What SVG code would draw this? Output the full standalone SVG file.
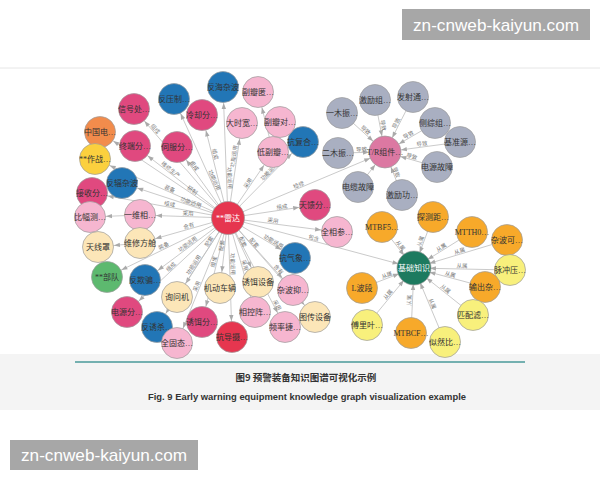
<svg xmlns="http://www.w3.org/2000/svg" width="600" height="480" viewBox="0 0 600 480">
<style>
.c{stroke:#9c9c9c;stroke-width:0.7}
.mg{fill:#e0497f}.lp{fill:#f6b6d0}.bl{fill:#2276b6}.or{fill:#f28c4c}.yl{fill:#fbd03e}
.tn{fill:#fce6b8}.gn{fill:#5db96f}.rd{fill:#e6364f}.gy{fill:#a9afc1}.tr{fill:#dc78a2}
.dg{fill:#1d7a5f}.og{fill:#f7a92a}.ly{fill:#f8f07c}
.t{font-family:"Liberation Serif","Noto Sans CJK SC",serif;font-size:8px;fill:#333;text-anchor:middle}
.w{fill:#fff}
.e{stroke:#bdbdbd;stroke-width:0.8;fill:none}
.el{font-family:"Noto Sans CJK SC",sans-serif;font-size:5.5px;fill:#777}
.wm{font-family:"Liberation Sans",sans-serif;font-size:17px;fill:#fff}
</style>
<defs>
<marker id="arr" markerUnits="userSpaceOnUse" markerWidth="30" markerHeight="10" refX="22" refY="0" orient="auto-start-reverse" overflow="visible">
<path d="M0,-2.2 L6,0 L0,2.2 z" fill="#aaa"/>
</marker>
</defs>
<rect width="600" height="480" fill="#fff"/>
<line x1="0" y1="68" x2="600" y2="68" stroke="#e6e6e6" stroke-width="1"/>
<rect x="0" y="354" width="600" height="56" fill="#f4f4f4"/>
<line x1="75" y1="362" x2="525" y2="362" stroke="#4a9a9a" stroke-width="1.5"/>

<g id="connectors">
<path id="e1" class="e" d="M174,99 L228,218" marker-start="url(#arr)"/>
<path id="e2" class="e" d="M134,109 L228,218" marker-start="url(#arr)"/>
<path id="e3" class="e" d="M100,132 L228,218" marker-start="url(#arr)"/>
<path id="e4" class="e" d="M135,146 L228,218" marker-start="url(#arr)"/>
<path id="e5" class="e" d="M177,147 L228,218" marker-start="url(#arr)"/>
<path id="e6" class="e" d="M95,159 L228,218" marker-start="url(#arr)"/>
<path id="e7" class="e" d="M122,183 L228,218" marker-start="url(#arr)"/>
<path id="e8" class="e" d="M92,193 L228,218" marker-start="url(#arr)"/>
<path id="e10" class="e" d="M140,215 L228,218" marker-start="url(#arr)"/>
<path id="e11" class="e" d="M140,243 L228,218" marker-start="url(#arr)"/>
<path id="e13" class="e" d="M107,277 L228,218" marker-start="url(#arr)"/>
<path id="e14" class="e" d="M145,280 L228,218" marker-start="url(#arr)"/>
<path id="e15" class="e" d="M177,297 L228,218" marker-start="url(#arr)"/>
<path id="e16" class="e" d="M127,312 L228,218" marker-start="url(#arr)"/>
<path id="e17" class="e" d="M157,327 L228,218" marker-start="url(#arr)"/>
<path id="e18" class="e" d="M177,343 L228,218" marker-start="url(#arr)"/>
<path id="e19" class="e" d="M202,322 L228,218" marker-start="url(#arr)"/>
<path id="e20" class="e" d="M220,288 L228,218" marker-start="url(#arr)"/>
<path id="e21" class="e" d="M228,218 L232,337" marker-end="url(#arr)"/>
<path id="e22" class="e" d="M228,218 L258,282" marker-end="url(#arr)"/>
<path id="e23" class="e" d="M228,218 L255,312" marker-end="url(#arr)"/>
<path id="e24" class="e" d="M228,218 L285,327" marker-end="url(#arr)"/>
<path id="e25" class="e" d="M228,218 L293,290" marker-end="url(#arr)"/>
<path id="e26" class="e" d="M228,218 L315,317" marker-end="url(#arr)"/>
<path id="e27" class="e" d="M228,218 L295,258" marker-end="url(#arr)"/>
<path id="e28" class="e" d="M228,218 L337,232" marker-end="url(#arr)"/>
<path id="e29" class="e" d="M228,218 L414,268" marker-end="url(#arr)"/>
<path id="e30" class="e" d="M228,218 L315,205" marker-end="url(#arr)"/>
<path id="e31" class="e" d="M228,218 L385,152" marker-end="url(#arr)"/>
<path id="e32" class="e" d="M228,218 L303,142" marker-end="url(#arr)"/>
<path id="e33" class="e" d="M228,218 L273,152" marker-end="url(#arr)"/>
<path id="e34" class="e" d="M228,218 L242,123" marker-end="url(#arr)"/>
<path id="e35" class="e" d="M202,115 L228,218" marker-start="url(#arr)"/>
<path id="e36" class="e" d="M223,87 L228,218" marker-start="url(#arr)"/>
<path id="e37" class="e" d="M90,217 L140,215" marker-start="url(#arr)"/>
<path id="e38" class="e" d="M98,247 L140,243" marker-start="url(#arr)"/>
<path id="e39" class="e" d="M258,92 L273,152" marker-start="url(#arr)"/>

<path id="t1" class="e" d="M342,113 L385,152" marker-end="url(#arr)"/>
<path id="t2" class="e" d="M338,153 L385,152" marker-end="url(#arr)"/>
<path id="t3" class="e" d="M375,100 L385,152" marker-end="url(#arr)"/>
<path id="t4" class="e" d="M385,152 L413,97" marker-start="url(#arr)"/>
<path id="t5" class="e" d="M385,152 L435,123" marker-start="url(#arr)"/>
<path id="t6" class="e" d="M385,152 L460,142" marker-start="url(#arr)"/>
<path id="t7" class="e" d="M385,152 L437,167" marker-start="url(#arr)"/>
<path id="t8" class="e" d="M358,187 L385,152" marker-end="url(#arr)"/>
<path id="t9" class="e" d="M385,152 L402,195" marker-start="url(#arr)"/>

<path id="b1" class="e" d="M414,268 L433,217" marker-start="url(#arr)"/>
<path id="b2" class="e" d="M382,227 L414,268" marker-end="url(#arr)"/>
<path id="b3" class="e" d="M414,268 L472,232" marker-start="url(#arr)"/>
<path id="b4" class="e" d="M414,268 L507,240" marker-start="url(#arr)"/>
<path id="b5" class="e" d="M414,268 L510,270" marker-start="url(#arr)"/>
<path id="b6" class="e" d="M414,268 L485,287" marker-start="url(#arr)"/>
<path id="b7" class="e" d="M362,288 L414,268" marker-end="url(#arr)"/>
<path id="b8" class="e" d="M414,268 L473,315" marker-start="url(#arr)"/>
<path id="b9" class="e" d="M367,325 L414,268" marker-end="url(#arr)"/>
<path id="b10" class="e" d="M411,333 L414,268" marker-end="url(#arr)"/>
<path id="b11" class="e" d="M414,268 L445,342" marker-start="url(#arr)"/>
</g>

<g id="edge-labels" class="el">
<text><textPath href="#e1" startOffset="90.7" text-anchor="middle"><tspan dy="-1.2">功能运用</tspan></textPath></text>
<text><textPath href="#e2" startOffset="28.9" text-anchor="middle"><tspan dy="-1.2">组成</tspan></textPath></text>
<text><textPath href="#e3" startOffset="109.2" text-anchor="middle"><tspan dy="-1.2">研制</tspan></textPath></text>
<text><textPath href="#e4" startOffset="42.6" text-anchor="middle"><tspan dy="-1.2">维修生产</tspan></textPath></text>
<text><textPath href="#e5" startOffset="25.4" text-anchor="middle"><tspan dy="-1.2">组成</tspan></textPath></text>
<text><textPath href="#e6" startOffset="80.5" text-anchor="middle"><tspan dy="-1.2">装备</tspan></textPath></text>
<text><textPath href="#e7" startOffset="71.6" text-anchor="middle"><tspan dy="-1.2">功能运用</tspan></textPath></text>
<text><textPath href="#e8" startOffset="78.3" text-anchor="middle"><tspan dy="-1.2">组成</tspan></textPath></text>
<text><textPath href="#e10" startOffset="48" text-anchor="middle"><tspan dy="-1.2">采用</tspan></textPath></text>
<text><textPath href="#e11" startOffset="51.5" text-anchor="middle"><tspan dy="-1.2">含有</tspan></textPath></text>
<text><textPath href="#e13" startOffset="64.6" text-anchor="middle"><tspan dy="-1.2">装备</tspan></textPath></text>
<text><textPath href="#e14" startOffset="55.6" text-anchor="middle"><tspan dy="-1.2">功能运用</tspan></textPath></text>
<text><textPath href="#e15" startOffset="64" text-anchor="middle"><tspan dy="-1.2">配套</tspan></textPath></text>
<text><textPath href="#e16" startOffset="63" text-anchor="middle"><tspan dy="-1.2">组成</tspan></textPath></text>
<text><textPath href="#e17" startOffset="72.1" text-anchor="middle"><tspan dy="-1.2">功能运用</tspan></textPath></text>
<text><textPath href="#e18" startOffset="60" text-anchor="middle"><tspan dy="-1.2">采用</tspan></textPath></text>
<text><textPath href="#e19" startOffset="61.2" text-anchor="middle"><tspan dy="-1.2">组成</tspan></textPath></text>
<text><textPath href="#e20" startOffset="42.5" text-anchor="middle"><tspan dy="-1.2">配套</tspan></textPath></text>
<text><textPath href="#e21" startOffset="46" text-anchor="middle"><tspan dy="-1.2">功能运用</tspan></textPath></text>
<text><textPath href="#e22" startOffset="28" text-anchor="middle"><tspan dy="-1.2">配套</tspan></textPath></text>
<text><textPath href="#e23" startOffset="50" text-anchor="middle"><tspan dy="-1.2">采用</tspan></textPath></text>
<text><textPath href="#e24" startOffset="100" text-anchor="middle"><tspan dy="-1.2">采用</tspan></textPath></text>
<text><textPath href="#e25" startOffset="72" text-anchor="middle"><tspan dy="-1.2">含有</tspan></textPath></text>
<text><textPath href="#e26" startOffset="36" text-anchor="middle"><tspan dy="-1.2">配套</tspan></textPath></text>
<text><textPath href="#e27" startOffset="51" text-anchor="middle"><tspan dy="-1.2">功能运用</tspan></textPath></text>
<text><textPath href="#e28" startOffset="45" text-anchor="middle"><tspan dy="-1.2">采用</tspan></textPath></text>
<text><textPath href="#e29" startOffset="88" text-anchor="middle"><tspan dy="-1.2">包含</tspan></textPath></text>
<text><textPath href="#e30" startOffset="55" text-anchor="middle"><tspan dy="-1.2">组成</tspan></textPath></text>
<text><textPath href="#e31" startOffset="78" text-anchor="middle"><tspan dy="-1.2">检修</tspan></textPath></text>
<text><textPath href="#e32" startOffset="62" text-anchor="middle"><tspan dy="-1.2">功能运用</tspan></textPath></text>
<text><textPath href="#e33" startOffset="40" text-anchor="middle"><tspan dy="-1.2">采用</tspan></textPath></text>
<text><textPath href="#e34" startOffset="62" text-anchor="middle"><tspan dy="-1.2">功能运用</tspan></textPath></text>
<text><textPath href="#e35" startOffset="41.2" text-anchor="middle"><tspan dy="-1.2">组成</tspan></textPath></text>
<text><textPath href="#e36" startOffset="91.1" text-anchor="middle"><tspan dy="-1.2">功能运用</tspan></textPath></text>
<text><textPath href="#t1" startOffset="50%" text-anchor="middle"><tspan dy="-1.2">导致</tspan></textPath></text>
<text><textPath href="#t2" startOffset="50%" text-anchor="middle"><tspan dy="-1.2">导致</tspan></textPath></text>
<text><textPath href="#t3" startOffset="50%" text-anchor="middle"><tspan dy="-1.2">导致</tspan></textPath></text>
<text><textPath href="#t4" startOffset="50%" text-anchor="middle"><tspan dy="-1.2">导致</tspan></textPath></text>
<text><textPath href="#t5" startOffset="50%" text-anchor="middle"><tspan dy="-1.2">导致</tspan></textPath></text>
<text><textPath href="#t6" startOffset="50%" text-anchor="middle"><tspan dy="-1.2">导致</tspan></textPath></text>
<text><textPath href="#t7" startOffset="50%" text-anchor="middle"><tspan dy="-1.2">导致</tspan></textPath></text>
<text><textPath href="#t9" startOffset="50%" text-anchor="middle"><tspan dy="-1.2">导致</tspan></textPath></text>
<text><textPath href="#b1" startOffset="50%" text-anchor="middle"><tspan dy="-1.2">从属</tspan></textPath></text>
<text><textPath href="#b2" startOffset="50%" text-anchor="middle"><tspan dy="-1.2">从属</tspan></textPath></text>
<text><textPath href="#b3" startOffset="50%" text-anchor="middle"><tspan dy="-1.2">从属</tspan></textPath></text>
<text><textPath href="#b4" startOffset="50%" text-anchor="middle"><tspan dy="-1.2">从属</tspan></textPath></text>
<text><textPath href="#b5" startOffset="50%" text-anchor="middle"><tspan dy="-1.2">从属</tspan></textPath></text>
<text><textPath href="#b6" startOffset="50%" text-anchor="middle"><tspan dy="-1.2">从属</tspan></textPath></text>
<text><textPath href="#b7" startOffset="50%" text-anchor="middle"><tspan dy="-1.2">从属</tspan></textPath></text>
<text><textPath href="#b8" startOffset="50%" text-anchor="middle"><tspan dy="-1.2">从属</tspan></textPath></text>
<text><textPath href="#b9" startOffset="50%" text-anchor="middle"><tspan dy="-1.2">从属</tspan></textPath></text>
<text><textPath href="#b10" startOffset="50%" text-anchor="middle"><tspan dy="-1.2">从属</tspan></textPath></text>
<text><textPath href="#b11" startOffset="50%" text-anchor="middle"><tspan dy="-1.2">从属</tspan></textPath></text>
</g>

<g id="nodes">
<g id="n-radar"><circle class="c rd" cx="228" cy="218" r="16.5"/><text class="t w" x="228" y="218" dy="0.35em">**雷达</text></g>
<g id="n1"><circle class="c bl" cx="174" cy="99" r="15.5"/><text class="t" x="174" y="99" dy="0.35em">反压制…</text></g>
<g id="n2"><circle class="c mg" cx="134" cy="109" r="15.5"/><text class="t" x="134" y="109" dy="0.35em">信号处…</text></g>
<g id="n3"><circle class="c or" cx="100" cy="132" r="15.5"/><text class="t" x="100" y="132" dy="0.35em">中国电…</text></g>
<g id="n4"><circle class="c mg" cx="135" cy="146" r="15.5"/><text class="t" x="135" y="146" dy="0.35em">终端分…</text></g>
<g id="n5"><circle class="c mg" cx="177" cy="147" r="15.5"/><text class="t" x="177" y="147" dy="0.35em">伺服分…</text></g>
<g id="n6"><circle class="c yl" cx="95" cy="159" r="15.5"/><text class="t" x="95" y="159" dy="0.35em">**作战…</text></g>
<g id="n7"><circle class="c bl" cx="122" cy="183" r="15.5"/><text class="t" x="122" y="183" dy="0.35em">反辐杂波</text></g>
<g id="n8"><circle class="c mg" cx="92" cy="193" r="15.5"/><text class="t" x="92" y="193" dy="0.35em">接收分…</text></g>
<g id="n9"><circle class="c lp" cx="90" cy="217" r="15.5"/><text class="t" x="90" y="217" dy="0.35em">比幅测…</text></g>
<g id="n10"><circle class="c lp" cx="140" cy="215" r="15.5"/><text class="t" x="140" y="215" dy="0.35em">一维相…</text></g>
<g id="n11"><circle class="c tn" cx="140" cy="243" r="15.5"/><text class="t" x="140" y="243" dy="0.35em">维修方舱</text></g>
<g id="n12"><circle class="c tn" cx="98" cy="247" r="15.5"/><text class="t" x="98" y="247" dy="0.35em">天线罩</text></g>
<g id="n13"><circle class="c gn" cx="107" cy="277" r="15.5"/><text class="t" x="107" y="277" dy="0.35em">**部队</text></g>
<g id="n14"><circle class="c bl" cx="145" cy="280" r="15.5"/><text class="t" x="145" y="280" dy="0.35em">反欺骗…</text></g>
<g id="n15"><circle class="c tn" cx="177" cy="297" r="15.5"/><text class="t" x="177" y="297" dy="0.35em">询问机</text></g>
<g id="n16"><circle class="c mg" cx="127" cy="312" r="15.5"/><text class="t" x="127" y="312" dy="0.35em">电源分…</text></g>
<g id="n17"><circle class="c bl" cx="157" cy="327" r="15.5"/><text class="t" x="157" y="327" dy="0.35em">反诱杀…</text></g>
<g id="n18"><circle class="c lp" cx="177" cy="343" r="15.5"/><text class="t" x="177" y="343" dy="0.35em">全固态…</text></g>
<g id="n19"><circle class="c mg" cx="202" cy="322" r="15.5"/><text class="t" x="202" y="322" dy="0.35em">诱饵分…</text></g>
<g id="n20"><circle class="c tn" cx="220" cy="288" r="15.5"/><text class="t" x="220" y="288" dy="0.35em">机动车辆</text></g>
<g id="n21"><circle class="c rd" cx="232" cy="337" r="15.5"/><text class="t" x="232" y="337" dy="0.35em">抗导摄…</text></g>
<g id="n22"><circle class="c tn" cx="258" cy="282" r="15.5"/><text class="t" x="258" y="282" dy="0.35em">诱饵设备</text></g>
<g id="n23"><circle class="c lp" cx="255" cy="312" r="15.5"/><text class="t" x="255" y="312" dy="0.35em">相控阵…</text></g>
<g id="n24"><circle class="c lp" cx="285" cy="327" r="15.5"/><text class="t" x="285" y="327" dy="0.35em">频率捷…</text></g>
<g id="n25"><circle class="c lp" cx="293" cy="290" r="15.5"/><text class="t" x="293" y="290" dy="0.35em">杂波抑…</text></g>
<g id="n26"><circle class="c tn" cx="315" cy="317" r="15.5"/><text class="t" x="315" y="317" dy="0.35em">图传设备</text></g>
<g id="n27"><circle class="c bl" cx="295" cy="258" r="15.5"/><text class="t" x="295" y="258" dy="0.35em">抗气象…</text></g>
<g id="n28"><circle class="c lp" cx="337" cy="232" r="15.5"/><text class="t" x="337" y="232" dy="0.35em">全相参…</text></g>
<g id="n30"><circle class="c mg" cx="315" cy="205" r="15.5"/><text class="t" x="315" y="205" dy="0.35em">天馈分…</text></g>
<g id="n32"><circle class="c bl" cx="303" cy="142" r="15.5"/><text class="t" x="303" y="142" dy="0.35em">抗复合…</text></g>
<g id="n34"><circle class="c lp" cx="242" cy="123" r="15.5"/><text class="t" x="242" y="123" dy="0.35em">大时宽…</text></g>
<g id="n35"><circle class="c mg" cx="202" cy="115" r="15.5"/><text class="t" x="202" y="115" dy="0.35em">冷却分…</text></g>
<g id="n36"><circle class="c bl" cx="223" cy="87" r="15.5"/><text class="t" x="223" y="87" dy="0.35em">反海杂波</text></g>
<g id="n39"><circle class="c lp" cx="258" cy="92" r="15.5"/><text class="t" x="258" y="92" dy="0.35em">副瓣匿…</text></g>
<g id="n40"><circle class="c lp" cx="280" cy="122" r="15.5"/><text class="t" x="280" y="122" dy="0.35em">副瓣对…</text></g>
<g id="n33"><circle class="c lp" cx="273" cy="152" r="15.5"/><text class="t" x="273" y="152" dy="0.35em">低副瓣…</text></g>

<g id="n-tr"><circle class="c tr" cx="385" cy="152" r="16"/><text class="t" x="385" y="152" dy="0.35em">T/R组件…</text></g>
<g id="g1"><circle class="c gy" cx="342" cy="113" r="15.5"/><text class="t" x="342" y="113" dy="0.35em">一木振…</text></g>
<g id="g2"><circle class="c gy" cx="338" cy="153" r="15.5"/><text class="t" x="338" y="153" dy="0.35em">二木振…</text></g>
<g id="g3"><circle class="c gy" cx="375" cy="100" r="15.5"/><text class="t" x="375" y="100" dy="0.35em">激励组…</text></g>
<g id="g4"><circle class="c gy" cx="413" cy="97" r="15.5"/><text class="t" x="413" y="97" dy="0.35em">发射通…</text></g>
<g id="g5"><circle class="c gy" cx="435" cy="123" r="15.5"/><text class="t" x="435" y="123" dy="0.35em">侧综组…</text></g>
<g id="g6"><circle class="c gy" cx="460" cy="142" r="15.5"/><text class="t" x="460" y="142" dy="0.35em">基准源…</text></g>
<g id="g7"><circle class="c gy" cx="437" cy="167" r="15.5"/><text class="t" x="437" y="167" dy="0.35em">电源故障</text></g>
<g id="g8"><circle class="c gy" cx="358" cy="187" r="15.5"/><text class="t" x="358" y="187" dy="0.35em">电缆故障</text></g>
<g id="g9"><circle class="c gy" cx="402" cy="195" r="15.5"/><text class="t" x="402" y="195" dy="0.35em">激励功…</text></g>

<g id="n-base"><circle class="c dg" cx="414" cy="268" r="17"/><text class="t w" x="414" y="268" dy="0.35em">基础知识</text></g>
<g id="k1"><circle class="c og" cx="433" cy="217" r="15.5"/><text class="t" x="433" y="217" dy="0.35em">探测距…</text></g>
<g id="k2"><circle class="c og" cx="382" cy="227" r="15.5"/><text class="t" x="382" y="227" dy="0.35em">MTBF5…</text></g>
<g id="k3"><circle class="c og" cx="472" cy="232" r="15.5"/><text class="t" x="472" y="232" dy="0.35em">MTTH0…</text></g>
<g id="k4"><circle class="c og" cx="507" cy="240" r="15.5"/><text class="t" x="507" y="240" dy="0.35em">杂波可…</text></g>
<g id="k5"><circle class="c ly" cx="510" cy="270" r="15.5"/><text class="t" x="510" y="270" dy="0.35em">脉冲压…</text></g>
<g id="k6"><circle class="c og" cx="485" cy="287" r="15.5"/><text class="t" x="485" y="287" dy="0.35em">输出杂…</text></g>
<g id="k7"><circle class="c og" cx="362" cy="288" r="15.5"/><text class="t" x="362" y="288" dy="0.35em">L波段</text></g>
<g id="k8"><circle class="c ly" cx="473" cy="315" r="15.5"/><text class="t" x="473" y="315" dy="0.35em">匹配滤…</text></g>
<g id="k9"><circle class="c ly" cx="367" cy="325" r="15.5"/><text class="t" x="367" y="325" dy="0.35em">傅里叶…</text></g>
<g id="k10"><circle class="c og" cx="411" cy="333" r="15.5"/><text class="t" x="411" y="333" dy="0.35em">MTBCF…</text></g>
<g id="k11"><circle class="c ly" cx="445" cy="342" r="15.5"/><text class="t" x="445" y="342" dy="0.35em">似然比…</text></g>
</g>

<g id="caption">
<text x="306" y="381" text-anchor="middle" font-family="'Noto Sans CJK SC',sans-serif" font-size="9.5" font-weight="bold" fill="#333">图9  预警装备知识图谱可视化示例</text>
<text x="307" y="400" text-anchor="middle" font-family="'Liberation Sans',sans-serif" font-size="8.5" font-weight="bold" fill="#333" textLength="318" lengthAdjust="spacingAndGlyphs">Fig. 9  Early warning equipment knowledge graph visualization example</text>
</g>

<g id="watermarks">
<rect x="402" y="9" width="188" height="31" fill="#a7a7a7"/>
<text class="wm" x="496" y="30.5" text-anchor="middle" textLength="166" lengthAdjust="spacingAndGlyphs">zn-cnweb-kaiyun.com</text>
<rect x="10" y="440" width="188" height="30" fill="#a7a7a7"/>
<text class="wm" x="104" y="461" text-anchor="middle" textLength="166" lengthAdjust="spacingAndGlyphs">zn-cnweb-kaiyun.com</text>
</g>
</svg>
